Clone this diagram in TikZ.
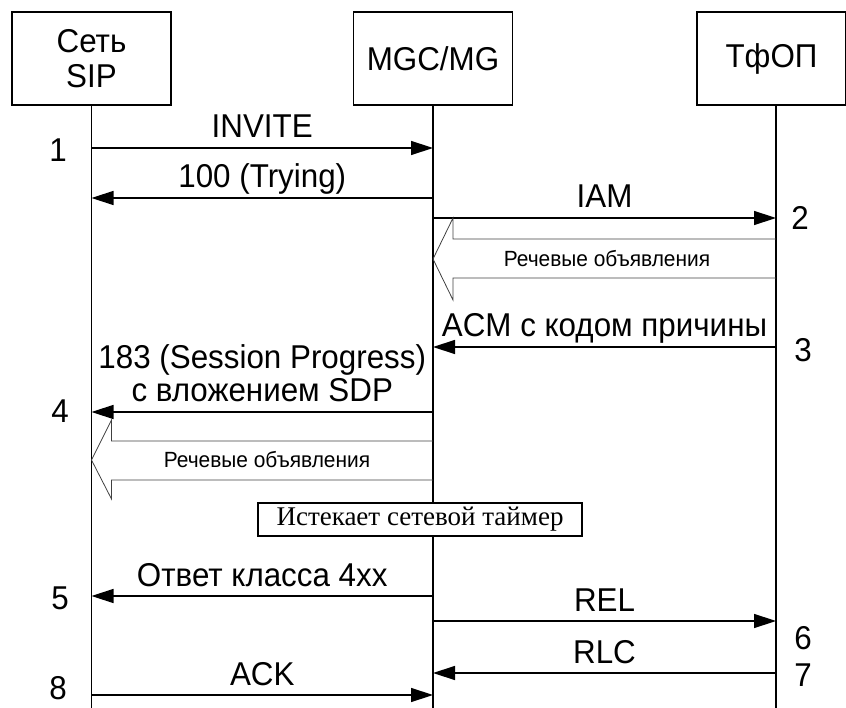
\documentclass[tikz,border=0pt]{standalone}
\usepackage{fontspec}
\setmainfont{Liberation Sans}[FakeStretch=0.95]
\newfontfamily\timesfont{Liberation Serif}
\usetikzlibrary{arrows.meta, calc}

\begin{document}
\begin{tikzpicture}[x=1pt, y=-1pt,
    header/.style={draw, line width=1.2pt, minimum width=159pt, minimum height=93pt, align=center, inner sep=0pt, font=\fontsize{33}{35}\selectfont},
    life/.style={line width=1.3pt},
    msg/.style={-{Triangle[length=22pt, width=14pt]}, line width=1.4pt},
    lbl/.style={anchor=base, yshift=10pt, inner sep=0pt, font=\fontsize{33}{33}\selectfont},
    num/.style={inner sep=0pt, font=\fontsize{33}{33}\selectfont},
    voice/.style={draw=black!75, line width=0.8pt},
    voicetext/.style={inner sep=0pt, font=\fontsize{22}{24}\selectfont},
    timer/.style={draw, line width=1.2pt, fill=white, minimum width=324pt, minimum height=33pt, inner sep=0pt, font=\timesfont\fontsize{27}{28}\selectfont},
]
\useasboundingbox (0,0) rectangle (846,708);

% participants
\node[header] (sip) at (91.5,58.5) {Сеть\\SIP};
\node[header] (mgc) at (433,58.5) {MGC/MG};
\node[header, minimum width=149pt] (pstn) at (771.5,58.5) {ТфОП};

\coordinate (sipl) at (sip.south);
\coordinate (mgcl) at (mgc.south);
\coordinate (pstnl) at (776,105);

% lifelines
\draw[life] (sipl) -- (sipl |- 0,708);
\draw[life] (mgcl) -- (mgcl |- 0,708);
\draw[life] (pstnl) -- (pstnl |- 0,708);

% messages
\draw[msg] (sipl |- 0,148) -- node[lbl] {INVITE} (mgcl |- 0,148);
\draw[msg] (mgcl |- 0,198) -- node[lbl] {100 (Trying)} (sipl |- 0,198);
\draw[msg] (mgcl |- 0,218) -- node[lbl] {IAM} (pstnl |- 0,218);

% voice announcements
\draw[voice] (pstnl |- 0,239) -- ($(mgcl |- 0,239)+(20,0)$) -- ($(mgcl |- 0,218)+(20,0)$)
    -- (mgcl |- 0,259) -- ($(mgcl |- 0,300)+(20,0)$) -- ($(mgcl |- 0,278)+(20,0)$) -- (pstnl |- 0,278);
\node[voicetext] (voice1) at (607,259) {Речевые объявления};

\draw[msg] (pstnl |- 0,347) -- node[lbl] {ACM с кодом причины} (mgcl |- 0,347);
\draw[msg] (mgcl |- 0,412) -- node[lbl, align=center] {183 (Session Progress)\\с вложением SDP} (sipl |- 0,412);

\draw[voice] (mgcl |- 0,441) -- ($(sipl |- 0,441)+(20,0)$) -- ($(sipl |- 0,420)+(20,0)$)
    -- (sipl |- 0,460) -- ($(sipl |- 0,499)+(20,0)$) -- ($(sipl |- 0,480)+(20,0)$) -- (mgcl |- 0,480);
\node[voicetext] (voice2) at (267,460) {Речевые объявления};

\node[timer] (expire) at (420,519.5) {Истекает сетевой таймер};

\draw[msg] (mgcl |- 0,596) -- node[lbl] {Ответ класса 4xx} (sipl |- 0,596);
\draw[msg] (mgcl |- 0,621) -- node[lbl] {REL} (pstnl |- 0,621);
\draw[msg] (pstnl |- 0,673) -- node[lbl] {RLC} (mgcl |- 0,673);
\draw[msg] (sipl |- 0,695) -- node[lbl] {ACK} (mgcl |- 0,695);

% step numbers
\node[num] (n1) at (58,150) {1};
\node[num] (n2) at (800,218) {2};
\node[num] (n3) at (803,350) {3};
\node[num] (n4) at (60,411) {4};
\node[num] (n5) at (60,598) {5};
\node[num] (n6) at (803,638) {6};
\node[num] (n7) at (803,675) {7};
\node[num] (n8) at (58,688) {8};

\end{tikzpicture}
\end{document}
